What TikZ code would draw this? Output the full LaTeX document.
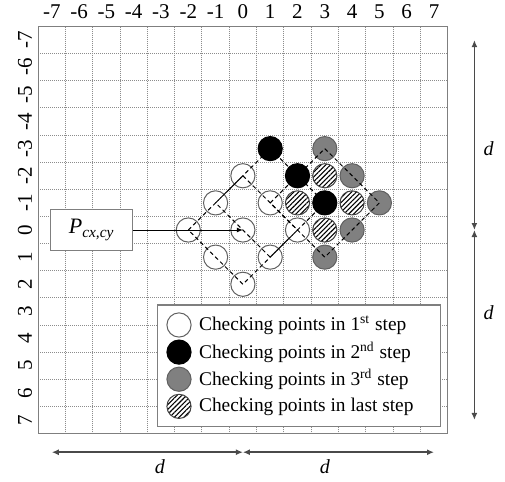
\documentclass[tikz,border=0pt]{standalone}
\usepackage{fontspec}
\setmainfont{Liberation Serif}
\usetikzlibrary{arrows.meta,patterns.meta}
\definecolor{framegray}{HTML}{7F7F7F}
\definecolor{gridgray}{HTML}{8C8C8C}
\definecolor{midgray}{HTML}{808080}
\definecolor{ringgray}{HTML}{606060}
\definecolor{dimink}{HTML}{4A4A4A}
\tikzset{
  chk/.style={circle,draw=ringgray,line width=0.5pt,minimum size=12.1pt,inner sep=0pt},
  firstpt/.style={chk,fill=white},
  secondpt/.style={chk,fill=black,draw=black},
  thirdpt/.style={chk,fill=midgray},
  lastpt/.style={chk,draw=black!75,preaction={fill=white},
    pattern={Lines[angle=45,distance=1.7pt,line width=0.55pt]}},
  gridrule/.style={draw=gridgray,line width=0.45pt,dash pattern=on 0.45pt off 0.55pt},
  framerule/.style={draw=framegray,line width=0.6pt},
  axislabel/.style={font=\fontsize{10.5}{12}\selectfont,inner sep=0pt},
  searchline/.style={draw=black,line width=0.5pt,dash pattern=on 2pt off 1.5pt},
  pbox/.style={draw=framegray,fill=white,line width=0.6pt,minimum width=41pt,
    minimum height=20.5pt,font=\fontsize{11}{13}\selectfont},
  legendbox/.style={draw=framegray,fill=white,line width=0.6pt,minimum width=141.7pt,
    minimum height=60.9pt},
  legendtext/.style={anchor=west,inner sep=0pt,font=\fontsize{9.7}{11}\selectfont},
  ptr/.style={-{Latex[length=3pt,width=2.5pt]},line width=0.5pt},
  dimarr/.style={{Latex[length=3.5pt,width=3pt]}-{Latex[length=3.5pt,width=3pt]},
    draw=dimink,line width=0.8pt},
  dimlabel/.style={font=\fontsize{10}{12}\selectfont\itshape,inner sep=0pt},
}
\begin{document}
\begin{tikzpicture}[x=13.65pt,y=-13.565pt]
  \useasboundingbox (-8.897,-8.478) rectangle (9.601,9.252);
  % search window
  \foreach \k in {-6.5,-5.5,...,6.5} {
    \draw[gridrule] (\k,-7.5) -- (\k,7.5);
    \draw[gridrule] (-7.5,\k) -- (7.5,\k);
  }
  \draw[framerule] (-7.5,-7.5) rectangle (7.5,7.5);
  \foreach \k in {-7,...,7} {
    \node[axislabel] (xl\k) at (\k,-8.05) {\k};
    \node[axislabel,rotate=90] (yl\k) at (-7.98,\k) {\k};
  }
  % checking points
  \foreach \x/\y in {0/0,-2/0,2/0,0/-2,0/2,-1/-1,1/-1,-1/1,1/1}
    \node[firstpt] (p\x\y) at (\x,\y) {};
  \foreach \x/\y in {1/-3,2/-2,3/-1}
    \node[secondpt] (p\x\y) at (\x,\y) {};
  \foreach \x/\y in {3/-3,4/-2,5/-1,4/0,3/1}
    \node[thirdpt] (p\x\y) at (\x,\y) {};
  \foreach \x/\y in {3/-2,2/-1,4/-1,3/0}
    \node[lastpt] (p\x\y) at (\x,\y) {};
  \draw[searchline] (p-20.center) -- (p0-2.center) -- (p20.center) -- (p02.center) -- cycle;
  \draw[searchline] (p-1-1.center) -- (p1-3.center) -- (p3-1.center) -- (p11.center) -- cycle;
  \draw[searchline] (p1-1.center) -- (p3-3.center) -- (p5-1.center) -- (p31.center) -- cycle;
  \node[pbox] (pc) at (-5.54,0) {\textit{P}\textsubscript{\textit{cx,cy}}};
  \draw[ptr] (pc.east) -- (p00.center);
  % legend
  \node[legendbox] (legend) at (2.055,5.007) {};
  \node[firstpt] (lg1) at (-2.34,3.5) {};
  \node[secondpt] (lg2) at (-2.34,4.5) {};
  \node[thirdpt] (lg3) at (-2.34,5.5) {};
  \node[lastpt] (lg4) at (-2.34,6.5) {};
  \node[legendtext] (lt1) at (-1.62,3.5) {Checking points in 1\textsuperscript{st} step};
  \node[legendtext] (lt2) at (-1.62,4.5) {Checking points in 2\textsuperscript{nd} step};
  \node[legendtext] (lt3) at (-1.62,5.5) {Checking points in 3\textsuperscript{rd} step};
  \node[legendtext] (lt4) at (-1.62,6.5) {Checking points in last step};
  % extent d
  \coordinate (r0) at (8.48,-7);
  \coordinate (r1) at (8.48,0);
  \coordinate (r2) at (8.48,7);
  \draw[dimarr] (r0) -- (r1);
  \draw[dimarr] (r1) -- (r2);
  \node[dimlabel] (dr1) at (9.0,-3.0) {d};
  \node[dimlabel] (dr2) at (9.0,3.05) {d};
  \coordinate (b0) at (-7,8.19);
  \coordinate (b1) at (0,8.19);
  \coordinate (b2) at (7,8.19);
  \draw[dimarr] (b0) -- (b1);
  \draw[dimarr] (b1) -- (b2);
  \node[dimlabel] (db1) at (-3.04,8.72) {d};
  \node[dimlabel] (db2) at (3.0,8.72) {d};
\end{tikzpicture}
\end{document}
